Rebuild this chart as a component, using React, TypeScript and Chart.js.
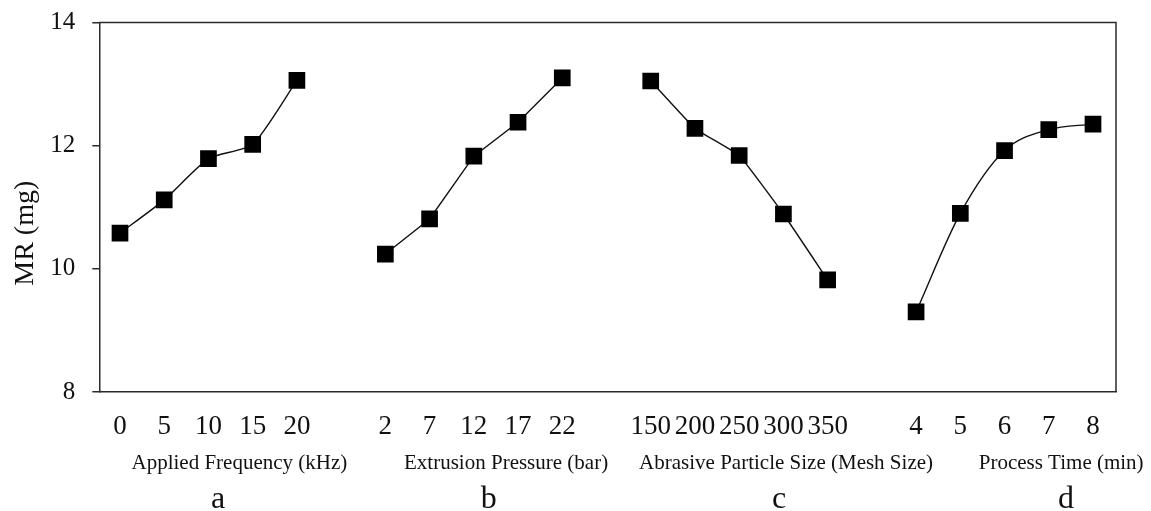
import React, { useEffect, useRef } from 'react';
import { Chart, registerables } from 'chart.js';

Chart.register(...registerables);

// Factor levels shown under each group of markers
const frequencyLevels = ['0', '5', '10', '15', '20'];
const pressureLevels = ['2', '7', '12', '17', '22'];
const meshLevels = ['150', '200', '250', '300', '350'];
const timeLevels = ['4', '5', '6', '7', '8'];

// Mean material removal (mg) at each level
const frequencyMR = [10.58, 11.12, 11.79, 12.02, 13.06];
const pressureMR = [10.24, 10.81, 11.83, 12.38, 13.1];
const meshMR = [13.05, 12.28, 11.84, 10.89, 9.82];
const timeMR = [9.3, 10.9, 11.92, 12.26, 12.35];

// Factor names and panel letters
const factorNames = [
  'Applied Frequency (kHz)',
  'Extrusion Pressure (bar)',
  'Abrasive Particle Size (Mesh Size)',
  'Process Time (min)',
];
const panelLetters = ['a', 'b', 'c', 'd'];

const yTicks = [8, 10, 12, 14];
const yTitle = 'MR (mg)';

const FONT = "'Liberation Serif', 'Times New Roman', serif";
const AXIS_COLOR = '#2b2b2b';
const GROUP_STRIDE = 6; // five levels plus one empty slot between groups

const groups = [
  { levels: frequencyLevels, values: frequencyMR, tension: 0.2, mono: false },
  { levels: pressureLevels, values: pressureMR, tension: 0, mono: false },
  { levels: meshLevels, values: meshMR, tension: 0.1, mono: false },
  { levels: timeLevels, values: timeMR, tension: 0.4, mono: true },
];

// category slot -> tick text
const slotText: Record<number, string> = {};
groups.forEach((g, gi) =>
  g.levels.forEach((lv, i) => {
    slotText[gi * GROUP_STRIDE + i] = lv;
  })
);
const slotPositions = Object.keys(slotText).map(Number);

// horizontal anchors (in slot units) for the factor names and the letters
const nameAnchors = [2.7, 8.73, 15.06, 21.28];
const letterAnchors = [2.22, 8.34, 14.9, 21.39];

const annotationPlugin = {
  id: 'frameAndCaptions',
  afterDraw(chart: any) {
    const { ctx, chartArea, scales } = chart;
    const { left, top, right, bottom } = chartArea;
    const x = scales.x;
    ctx.save();
    // closing frame on top and right
    ctx.strokeStyle = AXIS_COLOR;
    ctx.lineWidth = 1.5;
    ctx.beginPath();
    ctx.moveTo(left, top);
    ctx.lineTo(right, top);
    ctx.lineTo(right, bottom);
    ctx.stroke();

    ctx.fillStyle = '#111';
    ctx.textAlign = 'center';
    ctx.textBaseline = 'middle';
    // factor names
    ctx.font = `21px ${FONT}`;
    factorNames.forEach((name, i) => {
      ctx.fillText(name, x.getPixelForValue(nameAnchors[i]), bottom + 71);
    });
    // panel letters
    ctx.font = `32px ${FONT}`;
    panelLetters.forEach((l, i) => {
      ctx.fillText(l, x.getPixelForValue(letterAnchors[i]), bottom + 108);
    });
    // y-axis title
    ctx.font = `28px ${FONT}`;
    ctx.translate(26, (top + bottom) / 2 + 26);
    ctx.rotate(-Math.PI / 2);
    ctx.fillText(yTitle, 0, 0);
    ctx.restore();
  },
};

export default function App() {
  const canvasRef = useRef<HTMLCanvasElement | null>(null);

  useEffect(() => {
    const canvas = canvasRef.current;
    if (!canvas) return;

    const datasets = groups.map((g, gi) => ({
      label: factorNames[gi],
      data: g.values.map((v, i) => ({ x: gi * GROUP_STRIDE + i, y: v })),
      borderColor: '#111',
      borderWidth: 1.4,
      backgroundColor: '#000',
      pointStyle: 'rect' as const,
      pointRadius: 11.8,
      pointBorderWidth: 0,
      pointBackgroundColor: '#000',
      tension: g.tension,
      cubicInterpolationMode: g.mono ? ('monotone' as const) : ('default' as const),
      fill: false,
    }));

    const chart = new Chart(canvas, {
      type: 'line',
      data: { datasets },
      plugins: [annotationPlugin],
      options: {
        animation: false,
        responsive: false,
        layout: { padding: { top: 22.5, right: 35, left: 0, bottom: 0 } },
        plugins: {
          legend: { display: false },
          tooltip: { enabled: false },
        },
        scales: {
          x: {
            type: 'linear',
            min: -0.468,
            max: 22.52,
            afterBuildTicks: (scale: any) => {
              scale.ticks = slotPositions.map((v) => ({ value: v }));
            },
            afterFit: (scale: any) => {
              scale.height = 119;
              scale.paddingLeft = 0;
              scale.paddingRight = 0;
            },
            ticks: {
              autoSkip: false,
              maxRotation: 0,
              padding: 19,
              color: '#111',
              font: { family: FONT, size: 27 },
              callback: (v: any) => slotText[Number(v)] ?? '',
            },
            grid: { display: false, drawTicks: false },
            border: { display: true, color: AXIS_COLOR, width: 1.5 },
          },
          y: {
            min: 8,
            max: 14,
            afterBuildTicks: (scale: any) => {
              scale.ticks = yTicks.map((v) => ({ value: v }));
            },
            afterFit: (scale: any) => {
              scale.width = 99.3;
              scale.paddingTop = 0;
              scale.paddingBottom = 0;
            },
            ticks: {
              padding: 17,
              color: '#111',
              font: { family: FONT, size: 25 },
            },
            grid: {
              display: true,
              drawOnChartArea: false,
              drawTicks: true,
              tickLength: 7,
              color: AXIS_COLOR,
              lineWidth: 1.5,
            },
            border: { display: true, color: AXIS_COLOR, width: 1.5 },
          },
        },
      },
    });

    return () => chart.destroy();
  }, []);

  return (
    <div style={{ position: 'absolute', left: 0, top: 0, width: 1151, height: 511, background: '#fff' }}>
      <canvas ref={canvasRef} width={1151} height={511} style={{ display: 'block' }} />
    </div>
  );
}
